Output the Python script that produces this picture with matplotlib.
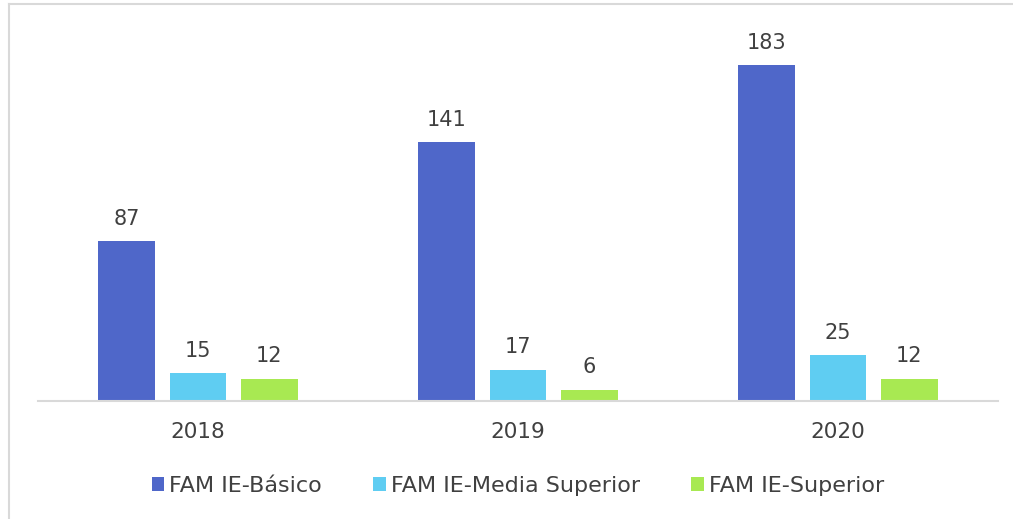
import matplotlib.pyplot as plt
import numpy as np
from matplotlib.lines import Line2D

# datos
years = ['2018', '2019', '2020']
series = ['FAM IE-Básico', 'FAM IE-Media Superior', 'FAM IE-Superior']
basico = [87, 141, 183]
media_superior = [15, 17, 25]
superior = [12, 6, 12]
colores = ['#4F67C9', '#5FCDF2', '#A8E952']

plt.rcParams['font.family'] = ['DejaVu Sans']
texto = '#404040'

fig = plt.figure(figsize=(10.13, 5.19), dpi=100)
ax = fig.add_axes([38 / 1013, 118 / 519, 960 / 1013, 367 / 519])

x = np.arange(len(years))
ancho = 0.178
paso = 0.222
for i, (vals, nombre) in enumerate(zip([basico, media_superior, superior], series)):
    barras = ax.bar(x + (i - 1) * paso, vals, ancho, color=colores[i], label=nombre)
    ax.bar_label(barras, padding=9, fontsize=15, color=texto)

ax.set_xlim(-0.5, 2.5)
ax.set_ylim(0, 200)
ax.set_yticks([])
ax.set_xticks(x)
ax.set_xticklabels(years, fontsize=15.5, color=texto)
ax.tick_params(axis='x', length=0, pad=15)
for s in ['top', 'right', 'left']:
    ax.spines[s].set_visible(False)
ax.spines['bottom'].set_color('#D9D9D9')
ax.spines['bottom'].set_linewidth(1.5)

ax.legend(loc='upper center', bbox_to_anchor=(0.5, -0.15), ncol=3, frameon=False,
          fontsize=16, labelcolor=texto, handlelength=0.55, handleheight=0.55,
          handletextpad=0.25, columnspacing=2.3)

# marco del gráfico
fig.add_artist(Line2D([9 / 1013, 9 / 1013], [0, 1 - 4 / 519], color='#D9D9D9', lw=1.5,
                      transform=fig.transFigure))
fig.add_artist(Line2D([9 / 1013, 1], [1 - 4 / 519, 1 - 4 / 519], color='#D9D9D9', lw=1.5,
                      transform=fig.transFigure))

plt.savefig('out.png', dpi=100)
